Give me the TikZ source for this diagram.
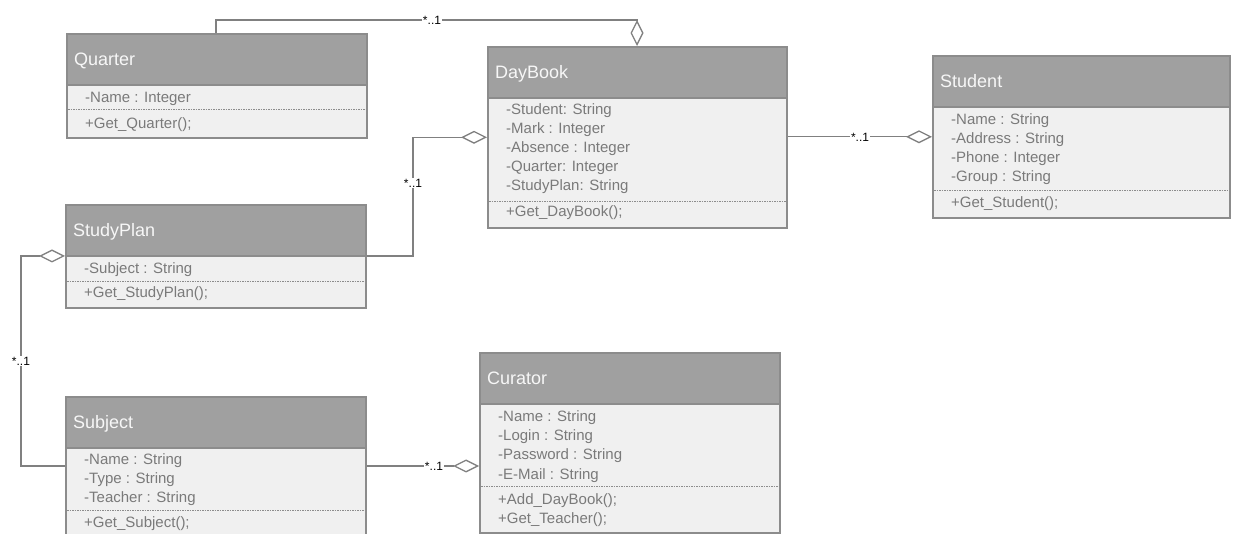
\documentclass[tikz,border=0pt]{standalone}
\usepackage{fontspec}
\setmainfont{Liberation Sans}
\usetikzlibrary{arrows.meta,calc}

\definecolor{headgray}{HTML}{A0A0A0}
\definecolor{edgegray}{HTML}{8C8C8C}
\definecolor{bodyfill}{HTML}{F0F0F0}
\definecolor{membergray}{HTML}{7A7A7A}
\definecolor{linegray}{HTML}{808080}
\definecolor{titlewhite}{HTML}{F7F7F7}

\tikzset{
  bodybox/.style={draw=edgegray, line width=1.6pt, fill=bodyfill, inner sep=0pt},
  headbox/.style={draw=edgegray, line width=1.6pt, fill=headgray, inner sep=0pt, minimum height=51pt},
  classtitle/.style={font=\fontsize{18}{22}\selectfont, text=titlewhite, inner sep=0pt,
    text height=12.9pt, text depth=0pt},
  member/.style={font=\fontsize{15}{19}\selectfont, text=membergray, inner sep=0pt, anchor=base west},
  sepline/.style={draw=edgegray, line width=1pt, dash pattern=on 1.5pt off 1pt},
  assoc/.style={draw=linegray, line width=1.3pt,
    -{Diamond[length=26pt, width=13pt, fill=white]}},
  mult/.style={font=\fontsize{12}{14}\selectfont, fill=white, inner xsep=1pt, inner ysep=0.5pt},
}

% class box: name, left, top, width, height, title
\newcommand\classbox[6]{%
  \node[bodybox, minimum width=#4pt, minimum height=#5pt, anchor=north west] (#1) at (#2,#3) {};
  \node[headbox, minimum width=#4pt, anchor=north west] (#1-head) at (#2,#3) {};
  \node[classtitle, anchor=west] (#1-title) at ([xshift=8pt]#1-head.west) {#6};
  \path (#1.north west) ++(19,0) coordinate (#1-tx) ++(-17,0) coordinate (#1-dl);
  \path (#1.north east) ++(-2,0) coordinate (#1-dr);
}

% members: name, first attribute baseline, attributes, separator y, first method baseline, methods
\newcommand\classmembers[6]{%
  \foreach \entry [count=\i] in {#3} {%
    \pgfmathsetmacro\yy{#2+19*(\i-1)}
    \node[member] (#1-a\i) at (#1-tx |- 0,\yy) {\entry};
  }
  \draw[sepline] (#1-dl |- 0,#4) -- (#1-dr |- 0,#4);
  \foreach \entry [count=\i] in {#6} {%
    \pgfmathsetmacro\yy{#5+19*(\i-1)}
    \node[member] (#1-m\i) at (#1-tx |- 0,\yy) {\entry};
  }
}

\begin{document}
\begin{tikzpicture}[x=1pt, y=-1pt]
  \useasboundingbox (0,0) rectangle (1235,534);
  \clip (0,0) rectangle (1235,534);

  % classes
  \classbox{quarter}{66}{33}{300}{104}{Quarter}
  \classmembers{quarter}{103}{-Name : Integer}{110}{129}{+Get\_Quarter();}

  \classbox{daybook}{487}{46}{299}{181}{DayBook}
  \classmembers{daybook}{115}{-Student: String, -Mark : Integer, -Absence : Integer,
    -Quarter: Integer, -StudyPlan: String}{202}{217}{+Get\_DayBook();}

  \classbox{student}{932}{55}{297}{162}{Student}
  \classmembers{student}{125}{-Name : String, -Address : String, -Phone : Integer,
    -Group : String}{191}{208}{+Get\_Student();}

  \classbox{studyplan}{65}{204}{300}{103}{StudyPlan}
  \classmembers{studyplan}{274}{-Subject : String}{282}{298}{+Get\_StudyPlan();}

  \classbox{subject}{65}{396}{300}{150}{Subject}
  \classmembers{subject}{465}{-Name : String, -Type : String, -Teacher : String}{511}{527}{+Get\_Subject();}

  \classbox{curator}{479}{352}{300}{180}{Curator}
  \classmembers{curator}{422}{-Name : String, -Login : String, -Password : String,
    -E-Mail : String}{487}{504}{+Add\_DayBook();, +Get\_Teacher();}

  % connector end points
  \path (quarter.north west) ++(150,0) coordinate (q-top);
  \path (daybook.north west) ++(150,0) coordinate (d-top);
  \path (studyplan.north east) ++(0,52) coordinate (sp-right);
  \path (daybook.west) ++(-74,0) coordinate (d-bend);
  \path (studyplan.north west) ++(0,52) coordinate (sp-left);
  \path (sp-left) ++(-44,0) coordinate (sp-bend);
  \path (subject.north west) ++(0,70) coordinate (su-left);
  \path (subject.north east) ++(0,70) coordinate (su-right);
  \path (curator.north west) ++(0,70) coordinate (cu-left);
  \path (cu-left |- su-right) coordinate (cu-in);

  % aggregations
  \draw[assoc] (q-top) |- (d-top |- 0,20) -- (d-top);
  \draw[assoc] (daybook.east |- student.west) -- (student.west);
  \draw[assoc] (sp-right) -| (d-bend) -- (daybook.west);
  \draw[assoc] (su-left) -| (sp-bend) -- (sp-left);
  \draw[assoc] (su-right) -- (cu-in);

  % multiplicities
  \node[mult] (m-quarter) at (432,20) {*..1};
  \node[mult] (m-student) at (860,137) {*..1};
  \node[mult] (m-studyplan) at (413,183) {*..1};
  \node[mult] (m-subject) at (21,361) {*..1};
  \node[mult] (m-curator) at (434,466) {*..1};
\end{tikzpicture}
\end{document}
